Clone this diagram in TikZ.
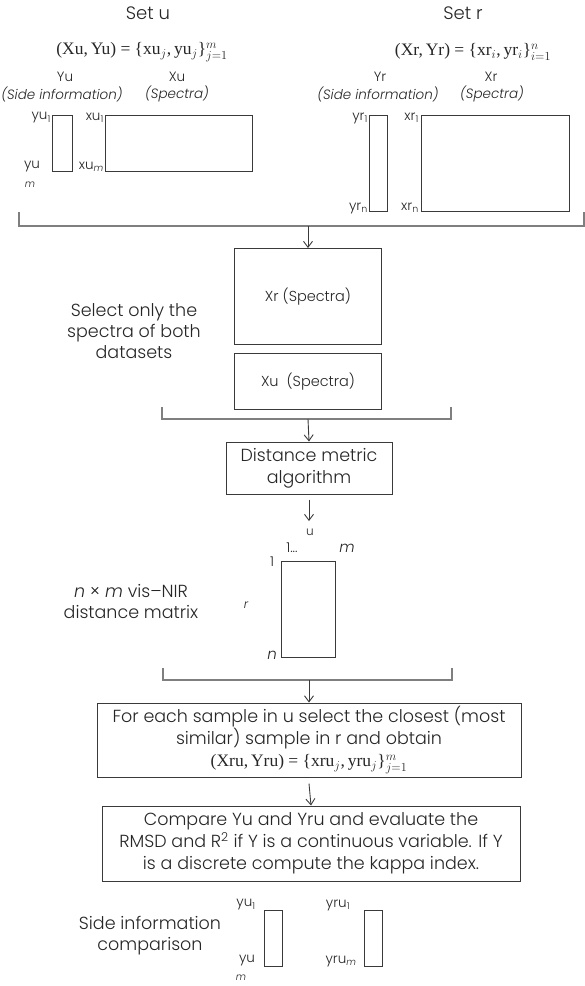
\documentclass[tikz,border=0pt]{standalone}
\usepackage{fix-cm}
\usepackage[no-math]{fontspec}
\setmainfont{Poppins Light}[ItalicFont={Poppins Light Italic}]
\newfontfamily\serifpart{Liberation Serif}
\usetikzlibrary{arrows.meta}
\definecolor{ink}{HTML}{262626}
\definecolor{edge}{HTML}{3A3A3A}
\definecolor{brkgray}{HTML}{7F7F7F}
% set-builder formulas in a serif face
\newcommand{\setpair}[5]{{\serifpart (#1,\,#2) = \{#3$_{#5}$,\,#4$_{#5}$\}}}
\tikzset{
  txt/.style={text=ink, inner sep=0pt},
  big/.style={txt, font=\fontsize{17.5}{21}\selectfont},
  boxtext/.style={txt, font=\fontsize{17.5}{22}\selectfont},
  head/.style={txt, font=\fontsize{18}{21}\selectfont},
  small/.style={txt, font=\fontsize{13.5}{16}\selectfont},
  smallit/.style={txt, font=\fontsize{13.5}{16}\selectfont\itshape},
  tiny/.style={txt, font=\fontsize{10}{12}\selectfont\itshape},
  inbox/.style={txt, font=\fontsize{14.5}{17}\selectfont},
  formula/.style={txt, font=\fontsize{17.5}{20}\selectfont},
  frm/.style={draw=edge, line width=1pt, inner sep=0pt},
  brk/.style={draw=brkgray, line width=1.6pt},
  arr/.style={draw=edge, line width=0.9pt, -{Straight Barb[length=6pt,width=9pt]}},
}
\begin{document}
\begin{tikzpicture}[x=1pt,y=-1pt]
\useasboundingbox (0,0) rectangle (585,986);

% ---------- set u ----------
\node[head] (setu) at (148,13) {Set u};
\node[formula] (fu) at (142,52) {\setpair{Xu}{Yu}{xu}{yu}{j}$_{j=1}^{m}$};
\node[small] (yuH) at (65,77) {Yu};
\node[small] (xuH) at (177,77) {Xu};
\node[smallit] (yuS) at (62,94) {(Side information)};
\node[smallit] (xuS) at (177,94) {(Spectra)};
\node[frm, minimum width=20pt, minimum height=56pt, anchor=north west] (yuR) at (52,115) {};
\node[frm, minimum width=147pt, minimum height=56pt, anchor=north west] (xuR) at (105,115) {};
\node[small, anchor=east] (yu1) at (51,118) {yu\textsubscript{1}};
\node[small, anchor=east] (xu1) at (104,118) {xu\textsubscript{1}};
\node[small] (yum) at (32,167) {yu};
\node[tiny] (yumm) at (30,185) {m};
\node[small, anchor=east] (xum) at (104,167) {xu\textsubscript{\itshape m}};

% ---------- set r ----------
\node[head] (setr) at (463,13) {Set r};
\node[formula] (fr) at (473,52) {\setpair{Xr}{Yr}{xr}{yr}{i}$_{i=1}^{n}$};
\node[small] (yrH) at (380,77) {Yr};
\node[small] (xrH) at (491,77) {Xr};
\node[smallit] (yrS) at (378,94) {(Side information)};
\node[smallit] (xrS) at (492,94) {(Spectra)};
\node[frm, minimum width=18pt, minimum height=96pt, anchor=north west] (yrR) at (369,115) {};
\node[frm, minimum width=148pt, minimum height=96pt, anchor=north west] (xrR) at (421,115) {};
\node[small, anchor=east] (yr1) at (368,118) {yr\textsubscript{1}};
\node[small, anchor=east] (xr1) at (419,118) {xr\textsubscript{1}};
\node[small, anchor=east] (yrn) at (368,208) {yr\textsubscript{n}};
\node[small, anchor=east] (xrn) at (419,208) {xr\textsubscript{n}};

% ---------- first merge ----------
\coordinate (b1l) at (19,212);
\coordinate (b1r) at (584,212);
\coordinate (b1m) at (308,226);
\draw[brk] (b1l) |- (b1r |- b1m) -- (b1r);
\node[frm, inbox, minimum width=147pt, minimum height=96pt, anchor=north] (xrBox) at (308,248) {Xr (Spectra)};
\draw[arr] (b1m) -- (xrBox.north);
\node[frm, inbox, minimum width=147pt, minimum height=56pt, anchor=north] (xuBox) at (308,353) {Xu\hspace{0.55em}(Spectra)};
\node[big, align=center] (selNote) at (134,331) {Select only the\\spectra of both\\datasets};

% ---------- distance ----------
\coordinate (b2l) at (162,407);
\coordinate (b2r) at (451,407);
\coordinate (b2m) at (308,419);
\draw[brk] (b2l) |- (b2r |- b2m) -- (b2r);
\node[frm, boxtext, align=center, minimum width=166pt, minimum height=52pt] (dist) at (309,468) {Distance metric\\algorithm};
\draw[arr] (b2m) -- (dist.north);
\coordinate (mIn) at (309,521);
\draw[arr] ([yshift=-5pt]dist.south) -- (mIn);

% ---------- distance matrix ----------
\node[small, font=\fontsize{12}{14}\selectfont] (uLbl) at (310,532) {u};
\node[small] (colA) at (292,548) {1...};
\node[smallit, font=\fontsize{15}{17}\selectfont\itshape] (colB) at (347,548) {m};
\node[small] (rowA) at (272,562) {1};
\node[frm, minimum width=54pt, minimum height=96pt, anchor=north west] (dm) at (281,561) {};
\node[smallit, font=\fontsize{12}{14}\selectfont\itshape] (rLbl) at (246,605) {r};
\node[smallit, font=\fontsize{15}{17}\selectfont\itshape] (rowB) at (272,655) {n};
\node[big, align=center] (dmNote) at (131,601) {\textit{n} × \textit{m} vis–NIR\\distance matrix};

% ---------- matching ----------
\coordinate (b3l) at (163,668);
\coordinate (b3r) at (452,668);
\coordinate (b3m) at (309,680);
\draw[brk] (b3l) |- (b3r |- b3m) -- (b3r);
\node[frm, boxtext, align=center, minimum width=424pt, minimum height=74pt] (match) at (309,740)
  {For each sample in u select the closest (most\\similar) sample in r and obtain\\
   \fontsize{17.5}{19}\selectfont\setpair{Xru}{Yru}{xru}{yru}{j}$_{j=1}^{m}$};
\draw[arr] (b3m) -- (match.north);
\node[frm, boxtext, align=center, minimum width=418pt, minimum height=75pt] (cmp) at (311,843.5)
  {Compare Yu and Yru and evaluate the\\RMSD and R\textsuperscript{2} if Y is a continuous variable. If Y\\is a discrete compute the kappa index.};
\draw[arr] ([yshift=-6pt]match.south) -- (cmp.north);

% ---------- side information ----------
\node[big, align=center] (sideNote) at (150,936) {Side information\\comparison};
\node[frm, minimum width=18pt, minimum height=56pt, anchor=north west] (cu) at (264,910) {};
\node[frm, minimum width=18pt, minimum height=56pt, anchor=north west] (cru) at (364,910) {};
\node[small] (cu1) at (246,905) {yu\textsubscript{1}};
\node[small] (cum) at (247,961) {yu};
\node[tiny] (cumm) at (241,978) {m};
\node[small] (cru1) at (338,905) {yru\textsubscript{1}};
\node[small] (crum) at (341,961) {yru\textsubscript{\itshape m}};
\end{tikzpicture}
\end{document}
